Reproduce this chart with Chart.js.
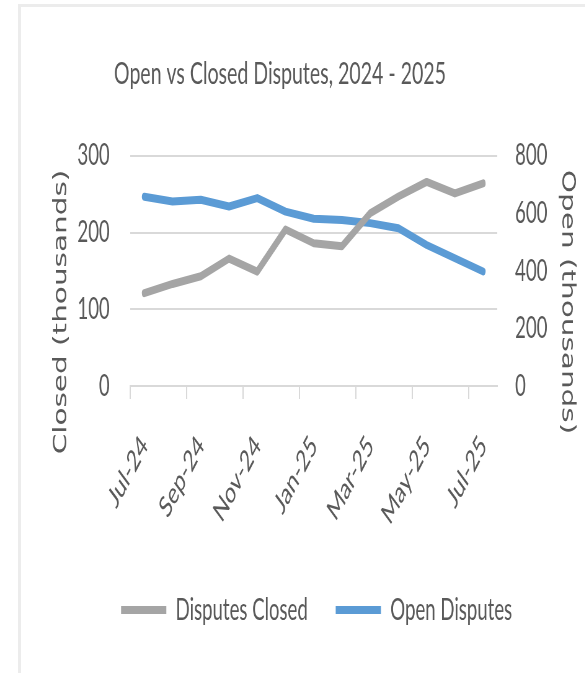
<!DOCTYPE html>
<html>
<head>
<meta charset="utf-8">
<script src="https://cdn.jsdelivr.net/npm/chart.js@4"></script>
<style>
  html, body { margin: 0; padding: 0; background: #fff; overflow: hidden; }
  body { width: 585px; height: 673px; position: relative; }
  /* the source picture is squeezed sideways, so the chart is drawn wide and scaled in x */
  #wrap { position: absolute; left: 0; top: 0; width: 980px; height: 673px; transform: scaleX(0.62); transform-origin: 0 0; }
  #frame { position: absolute; left: 18px; top: 4px; width: 700px; height: 700px; border-left: 3px solid #ececec; border-top: 3px solid #ececec; }
</style>
</head>
<body>
<div id="frame"></div>
<div id="wrap"><canvas id="graphDisputes"></canvas></div>
<script>
const mois = ["Jul-24", "Aug-24", "Sep-24", "Oct-24", "Nov-24", "Dec-24", "Jan-25", "Feb-25", "Mar-25", "Apr-25", "May-25", "Jun-25", "Jul-25"];
const disputesFermees = [121, 133, 143, 166, 149, 204, 186, 182, 225, 247, 266, 251, 264];
const disputesOuvertes = [658, 641, 647, 624, 653, 606, 581, 577, 566, 548, 490, 444, 398];
const titreGraph = "Open vs Closed Disputes, 2024 - 2025";
const titreGauche = "Closed (thousands)";
const titreDroite = "Open (thousands)";

const gris = '#595959';
const grille = '#d9d9d9';
const police = 'Lato';

// titres des axes, placés comme dans l'original (pas centrés sur la zone)
const titresAxes = {
    id: 'titresAxes',
    afterDraw(chart) {
        const ctx = chart.ctx;
        const area = chart.chartArea;
        ctx.save();
        ctx.font = '29.5px "DejaVu Sans"';
        ctx.fillStyle = gris;
        ctx.textAlign = 'center';
        ctx.textBaseline = 'middle';
        ctx.translate(area.left - 111, area.bottom - 74);
        ctx.rotate(-Math.PI / 2);
        ctx.fillText(titreGauche, 0, 0);
        ctx.restore();

        ctx.save();
        ctx.font = '29.5px "DejaVu Sans"';
        ctx.fillStyle = gris;
        ctx.textAlign = 'center';
        ctx.textBaseline = 'middle';
        ctx.translate(area.right + 113, area.bottom - 84);
        ctx.rotate(Math.PI / 2);
        ctx.fillText(titreDroite, 0, 0);
        ctx.restore();
    }
};

const ctxDisputes = document.getElementById('graphDisputes').getContext('2d');

new Chart(ctxDisputes, {
    type: 'line',
    data: {
        labels: mois,
        datasets: [{
            label: 'Disputes Closed',
            data: disputesFermees,
            yAxisID: 'yClosed',
            borderColor: '#a5a5a5',
            backgroundColor: '#a5a5a5',
            borderWidth: 8,
            borderCapStyle: 'round',
            borderJoinStyle: 'round',
            pointRadius: 0,
            tension: 0,
            fill: false
        }, {
            label: 'Open Disputes',
            data: disputesOuvertes,
            yAxisID: 'yOpen',
            borderColor: '#5b9bd5',
            backgroundColor: '#5b9bd5',
            borderWidth: 8,
            borderCapStyle: 'round',
            borderJoinStyle: 'round',
            pointRadius: 0,
            tension: 0,
            fill: false
        }]
    },
    options: {
        responsive: true,
        maintainAspectRatio: false,
        animation: false,
        layout: { padding: { left: 32, right: 109, top: 0, bottom: 38 } },
        plugins: {
            title: {
                display: true,
                text: titreGraph,
                color: gris,
                font: { family: police, size: 31.5, weight: 'normal' },
                padding: { top: 55, bottom: 63 }
            },
            legend: {
                position: 'bottom',
                align: 'end',
                labels: {
                    usePointStyle: true,
                    pointStyle: 'line',
                    pointStyleWidth: 73,
                    padding: 45,
                    color: gris,
                    font: { family: police, size: 30 }
                }
            },
            tooltip: { enabled: false }
        },
        scales: {
            x: {
                offset: true,
                afterFit: s => { s.height = 164; },
                border: { display: true, color: grille, width: 2 },
                grid: {
                    offset: true,
                    drawOnChartArea: false,
                    drawTicks: true,
                    tickLength: 13,
                    lineWidth: 2,
                    color: c => (c.index % 2 === 0 ? grille : 'transparent')
                },
                ticks: {
                    autoSkip: false,
                    minRotation: 50,
                    maxRotation: 50,
                    padding: 30,
                    color: gris,
                    font: { family: police, size: 30 },
                    callback: (v, i) => (i % 2 === 0 ? mois[i] : '')
                }
            },
            yClosed: {
                position: 'left',
                min: 0,
                max: 300,
                afterFit: s => { s.width = 178; },
                border: { display: false },
                grid: { color: grille, lineWidth: 2, drawTicks: false },
                ticks: {
                    stepSize: 100,
                    padding: 33,
                    color: gris,
                    font: { family: police, size: 30 }
                }
            },
            yOpen: {
                position: 'right',
                min: 0,
                max: 800,
                afterFit: s => { s.width = 69; },
                border: { display: false },
                grid: { display: false, drawTicks: false },
                // mirror: les libellés ne sont pas coupés par la largeur de l'axe
                ticks: {
                    mirror: true,
                    crossAlign: 'far',
                    stepSize: 200,
                    padding: 81,
                    color: gris,
                    font: { family: police, size: 30 }
                }
            }
        }
    },
    plugins: [titresAxes]
});
</script>
</body>
</html>
